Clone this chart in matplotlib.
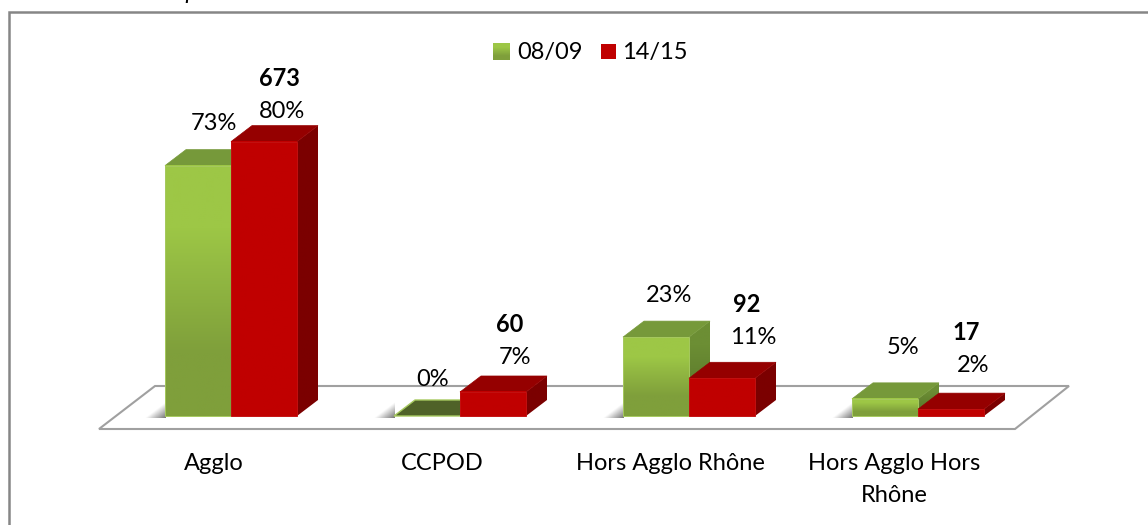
import numpy as np
import matplotlib
matplotlib.use("Agg")
import matplotlib.pyplot as plt
from matplotlib.patches import Polygon, Rectangle

categories = ["Agglo", "CCPOD", "Hors Agglo Rhône", "Hors Agglo Hors\nRhône"]
series_names = ["08/09", "14/15"]
pct_0809 = [73, 0, 23, 5]
pct_1415 = [80, 7, 11, 2]
counts_1415 = [673, 60, 92, 17]

W, H = 1148, 525
PX_CAT = 229.0   # pixels between two categories
PX_PCT = 3.43    # pixels for 1 percent
X0, Y0 = 231, 416
BAR_W = 66 / PX_CAT
DX = 21 / PX_CAT
DY = 16 / PX_PCT
FS = 17

# label centres in picture pixels, the original has them moved by hand
pos_0809 = [(214, 123), (433, 380), (669, 295), (903, 348)]
pos_1415 = [(282, 111), (515, 357), (753, 337), (973, 365)]
pos_counts = [(279, 79), (510, 324), (747, 305), (966, 332)]
pos_cats = [214, 442, 670, 894]

plt.rcParams['font.family'] = ['Lato', 'DejaVu Sans']
fig = plt.figure(figsize=(W / 100, H / 100), dpi=100)
ax = fig.add_axes([0, 0, 1, 1])
ax.set_xlim(-X0 / PX_CAT, (W - X0) / PX_CAT)
ax.set_ylim(-(H - Y0) / PX_PCT, Y0 / PX_PCT)
ax.axis('off')
trans = ax.transData


def px(x, y):
    # pixel position of the picture -> data units, for the frame and labels
    return (x - X0) / PX_CAT, (Y0 - y) / PX_PCT


def gradient(x0, x1, y0, y1, top, bottom, zorder):
    cols = np.array([matplotlib.colors.to_rgb(top), matplotlib.colors.to_rgb(bottom)])
    return ax.imshow(cols[:, None, :], extent=(x0, x1, y0, y1), aspect='auto',
                     interpolation='bilinear', origin='upper', zorder=zorder)


def shadow(x, z):
    # soft shadow thrown to the left of the bar, on the floor
    n = 40
    xr = np.linspace(0, 1, n)[None, :]
    yr = np.linspace(0, 1, n)[:, None]
    grad = np.zeros((n, n, 4))
    grad[..., :3] = 0.4
    grad[..., 3] = 0.9 * np.clip(xr + yr - 1, 0, 1)
    ax.imshow(grad, extent=(x - 20 / PX_CAT, x + 1 / PX_CAT, -2 / PX_PCT, 14 / PX_PCT),
              aspect='auto', interpolation='bilinear', origin='upper', zorder=z)


def bar3d(x, v, front_top, front_bot, top_col, side_top, side_bot, edge, z):
    if v == 0:
        ax.add_patch(Polygon([(x, 0), (x + BAR_W, 0), (x + BAR_W + DX, DY), (x + DX, DY)],
                             fc='#4F6228', ec=edge, lw=1, zorder=z))
        return
    im = gradient(x + BAR_W, x + BAR_W + DX, 0, v + DY, side_top, side_bot, z)
    side = Polygon([(x + BAR_W, 0), (x + BAR_W + DX, DY), (x + BAR_W + DX, v + DY), (x + BAR_W, v)],
                   transform=trans, fc='none', ec='none')
    ax.add_patch(side)
    im.set_clip_path(side)
    ax.add_patch(Polygon([(x, v), (x + BAR_W, v), (x + BAR_W + DX, v + DY), (x + DX, v + DY)],
                         fc=top_col, ec=top_col, lw=0.5, zorder=z))
    gradient(x, x + BAR_W, 0, v, front_top, front_bot, z + 0.1)
    ax.add_patch(Rectangle((x, 0), BAR_W, v, fc='none', ec=edge, lw=0.7, zorder=z + 0.2))


# floor
ax.add_patch(Polygon([px(99, 429), px(1015, 429), px(1069, 386), px(155, 386)],
                     fc='white', ec='#A0A0A0', lw=1.5, zorder=1))

# green first, then red in front of its side
for i in range(len(categories)):
    shadow(i - BAR_W, 2)
    bar3d(i - BAR_W, pct_0809[i], '#9DC746', '#7F9F3B', '#76993A', '#6C8E34', '#5C7A2C', '#A6C95F', 3 + i)
    bar3d(i, pct_1415[i], '#C00000', '#C00000', '#950000', '#7B0000', '#7B0000', '#C41010', 3.3 + i)

# labels
for i in range(len(categories)):
    ax.text(*px(*pos_0809[i]), "%d%%" % pct_0809[i], ha='center', va='center', fontsize=FS, zorder=20)
    ax.text(*px(*pos_1415[i]), "%d%%" % pct_1415[i], ha='center', va='center', fontsize=FS, zorder=20)
    ax.text(*px(*pos_counts[i]), str(counts_1415[i]), ha='center', va='center', fontsize=FS,
            fontweight='bold', zorder=20)
    ax.text(px(pos_cats[i], 0)[0], px(0, 453)[1], categories[i], ha='center', va='top', fontsize=FS,
            linespacing=1.62, zorder=20)

# legend
x, y = px(493, 60)
gradient(x, x + 17 / PX_CAT, y, y + 17 / PX_PCT, '#9DC746', '#7F9F3B', 20)
x, y = px(601, 59)
ax.add_patch(Rectangle((x, y), 15 / PX_CAT, 15 / PX_PCT, fc='#C00000', ec='none', zorder=20))
ax.text(*px(517, 52), series_names[0], va='center', ha='left', fontsize=FS, zorder=20)
ax.text(*px(622, 52), series_names[1], va='center', ha='left', fontsize=FS, zorder=20)

# chart frame, only the top and left edges are inside the crop
ax.plot(*zip(px(9, H), px(9, 12), px(W, 12)), color='#868686', lw=1.8, zorder=0.5,
        solid_joinstyle='miter', scalex=False, scaley=False)

# caption above the chart, mostly cut off by the crop
ax.text(*px(35, -1), "Evolution de la provenance des élèves", ha='left', va='baseline', fontsize=17,
        style='italic', zorder=20)

ax.set_xlim(-X0 / PX_CAT, (W - X0) / PX_CAT)
ax.set_ylim(-(H - Y0) / PX_PCT, Y0 / PX_PCT)
fig.savefig("out.png", dpi=100)
